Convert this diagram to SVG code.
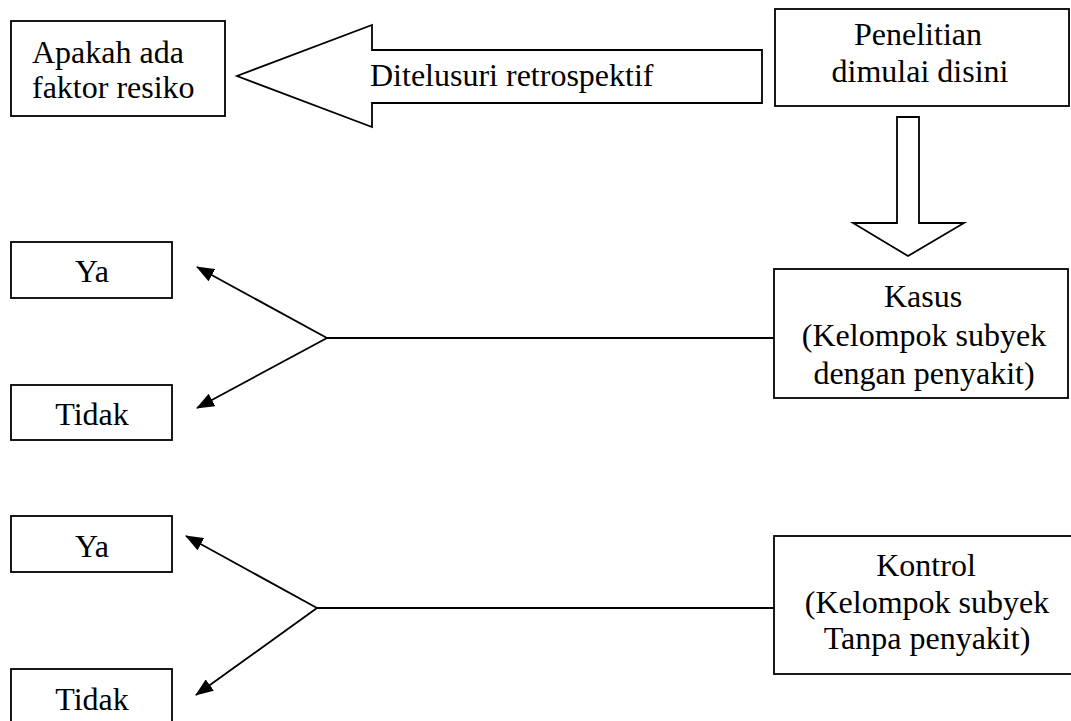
<svg xmlns="http://www.w3.org/2000/svg" width="1071" height="721" viewBox="0 0 1071 721">
<defs>
<style>
.box{fill:#fff;stroke:#000;stroke-width:1.8}
.bigarrow{fill:#fff;stroke:#000;stroke-width:1.8;stroke-linejoin:miter}
.t{font-family:"Liberation Serif","Times New Roman",serif;font-size:32px;fill:#000}
.c{text-anchor:middle}
.ln{stroke:#000;stroke-width:1.8;fill:none}
</style>
<marker id="ah" viewBox="0 0 18 14" refX="17" refY="7" markerWidth="18" markerHeight="14" markerUnits="userSpaceOnUse" orient="auto">
<path d="M0,0 L18,7 L0,14 Z" fill="#000"/>
</marker>
</defs>
<rect width="1071" height="721" fill="#fff"/>
<g id="connectors">
<polygon class="bigarrow" points="762,50 372,50 372,25 237,76 372,127 372,103 762,103"/>
<text class="t" x="370" y="86">Ditelusuri retrospektif</text>
<polygon class="bigarrow" points="897,117 919,117 919,223 964,223 908,256 853,223 897,223"/>
<line class="ln" x1="327" y1="338" x2="774" y2="338"/>
<line class="ln" x1="327" y1="338" x2="197" y2="267" marker-end="url(#ah)"/>
<line class="ln" x1="327" y1="338" x2="197" y2="408" marker-end="url(#ah)"/>
<line class="ln" x1="317" y1="608" x2="774" y2="608"/>
<line class="ln" x1="317" y1="608" x2="186" y2="536" marker-end="url(#ah)"/>
<line class="ln" x1="317" y1="608" x2="196" y2="695" marker-end="url(#ah)"/>
</g>
<g id="faktor">
<rect class="box" x="11" y="21" width="214" height="95"/>
<text class="t" x="32" y="63">Apakah ada</text>
<text class="t" x="32" y="98">faktor resiko</text>
</g>
<g id="penelitian">
<rect class="box" x="775" y="9" width="294" height="97"/>
<text class="t c" x="918" y="45">Penelitian</text>
<text class="t c" x="920" y="82">dimulai disini</text>
</g>
<g id="kasus">
<rect class="box" x="774" y="269" width="294" height="129"/>
<text class="t c" x="923" y="307">Kasus</text>
<text class="t c" x="924" y="346">(Kelompok subyek</text>
<text class="t c" x="924" y="384">dengan penyakit)</text>
</g>
<g id="ya1">
<rect class="box" x="11" y="242" width="161" height="56"/>
<text class="t c" x="92" y="282">Ya</text>
</g>
<g id="tidak1">
<rect class="box" x="11" y="385" width="161" height="55"/>
<text class="t c" x="92" y="425">Tidak</text>
</g>
<g id="kontrol">
<rect class="box" x="774" y="536" width="300" height="138"/>
<text class="t c" x="926" y="576">Kontrol</text>
<text class="t c" x="927" y="613">(Kelompok subyek</text>
<text class="t c" x="927" y="649">Tanpa penyakit)</text>
</g>
<g id="ya2">
<rect class="box" x="11" y="516" width="161" height="56"/>
<text class="t c" x="92" y="557">Ya</text>
</g>
<g id="tidak2">
<rect class="box" x="11" y="669" width="161" height="60"/>
<text class="t c" x="92" y="710">Tidak</text>
</g>
</svg>
